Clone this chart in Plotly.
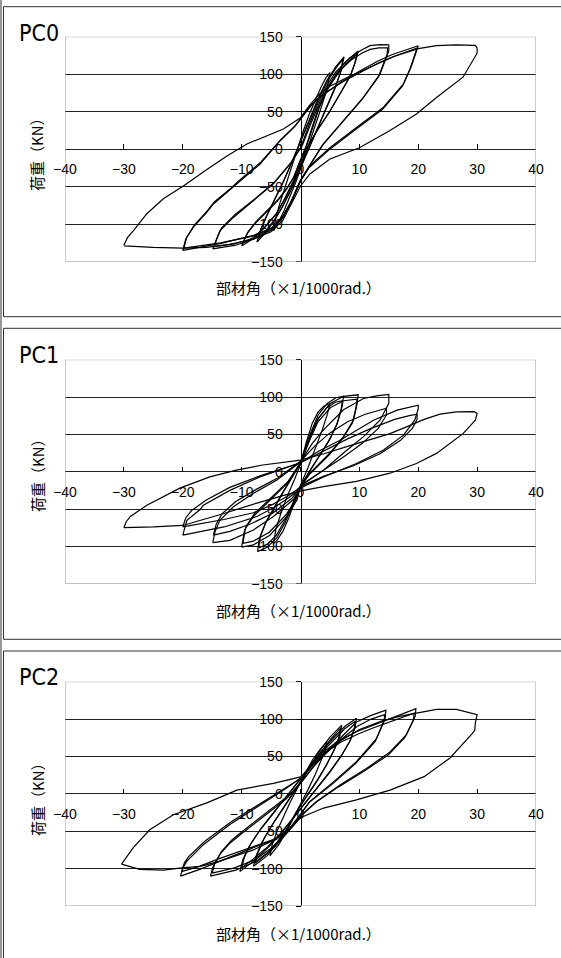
import plotly.graph_objects as go

# ---------------- data ----------------
X_TICKS = [-40, -30, -20, -10, 0, 10, 20, 30, 40]
Y_TICKS = [-150, -100, -50, 0, 50, 100, 150]
PANEL_TITLES = ["PC0", "PC1", "PC2"]
X_TITLE = "部材角（×1/1000rad.）"
Y_TITLE = "荷重（KN）"

# ---- PC0 cycles ----
pc0_05_x = [-4.6, -4.2, -3.5, -2.5, -1.5, -0.5, 0.5, 1.5, 2.5, 3.5, 4.3, 5.0, 4.7, 4.1, 3.2, 2.2, 1.2, 0.2, -0.8, -1.8, -2.8, -3.8, -4.6]
pc0_05_y = [-109, -92, -72, -48, -22, 3, 25, 47, 66, 83, 95, 102, 88, 70, 48, 24, 0, -22, -44, -64, -82, -98, -109]
pc0_075a_x = [-7.4, -6.8, -5.8, -4.5, -3.0, -1.5, 0.0, 1.5, 3.0, 4.5, 6.0, 7.4, 6.9, 6.0, 4.5, 3.0, 1.5, 0.0, -1.5, -3.0, -4.5, -6.0, -7.4]
pc0_075a_y = [-124, -108, -90, -70, -45, -18, 10, 40, 68, 92, 110, 123, 105, 85, 58, 30, 2, -25, -52, -76, -96, -112, -124]
pc0_075b_x = [-7.2, -6.6, -5.6, -4.3, -2.8, -1.3, 0.2, 1.7, 3.2, 4.7, 6.1, 7.2, 6.8, 5.9, 4.4, 2.9, 1.4, -0.1, -1.6, -3.1, -4.6, -6.0, -7.2]
pc0_075b_y = [-120, -104, -86, -66, -41, -14, 13, 42, 69, 92, 109, 120, 102, 82, 55, 27, -1, -28, -54, -77, -96, -110, -120]
pc0_10a_x = [-10.0, -9.1, -7.8, -6.0, -4.0, -2.5, -1.2, 0.0, 1.0, 2.0, 3.0, 4.5, 6.0, 7.5, 8.7, 9.8, 9.4, 8.6, 7.3, 5.0, 2.8, 1.2, 0.0, -1.0, -2.5, -4.0, -6.0, -8.0, -10.0]
pc0_10a_y = [-129, -113, -100, -86, -70, -55, -38, -14, 5, 30, 54, 80, 100, 115, 124, 131, 118, 100, 82, 51, 25, 3, -22, -40, -64, -85, -104, -119, -129]
pc0_10b_x = [-9.8, -8.9, -7.6, -5.8, -3.8, -2.3, -1.0, 0.2, 1.2, 2.2, 3.2, 4.7, 6.2, 7.6, 8.7, 9.6, 9.2, 8.4, 7.1, 4.8, 2.6, 1.0, -0.2, -1.2, -2.7, -4.2, -6.2, -8.0, -9.8]
pc0_10b_y = [-125, -110, -97, -83, -67, -52, -35, -11, 8, 32, 56, 81, 99, 113, 121, 127, 114, 97, 79, 48, 22, 0, -24, -42, -66, -87, -105, -118, -125]
pc0_15a_x = [-14.9, -14.3, -13.7, -11.4, -8.0, -4.6, -1.8, 0.0, 1.5, 3.0, 4.5, 6.0, 8.4, 10.3, 11.8, 13.5, 15.0, 15.0, 13.5, 10.7, 7.3, 3.9, 1.0, 0.0, -1.5, -3.0, -5.0, -8.0, -11.0, -14.9]
pc0_15a_y = [-133, -120, -109, -91, -69, -46, -20, 2, 33, 62, 85, 103, 122, 132, 138, 139.5, 139, 131, 100, 69, 38, 7, -29, -42, -70, -92, -108, -120, -128, -133]
pc0_15b_x = [-14.7, -14.1, -13.4, -11.1, -7.7, -4.3, -1.5, 0.3, 1.8, 3.3, 4.8, 6.3, 8.6, 10.4, 11.8, 13.3, 14.8, 14.7, 13.2, 10.4, 7.0, 3.6, 0.8, -0.2, -1.7, -3.3, -5.3, -8.2, -11.1, -14.7]
pc0_15b_y = [-130, -117, -105, -87, -66, -43, -17, 5, 35, 63, 85, 102, 119, 128, 133, 135, 135, 126, 96, 66, 35, 4, -31, -44, -72, -93, -108, -119, -126, -130]
pc0_20a_x = [-20.0, -19.5, -18.2, -16.0, -14.8, -12.0, -10.8, -6.9, -3.5, -1.0, 0.0, 1.5, 3.0, 4.4, 7.0, 10.0, 13.0, 15.5, 18.0, 20.0, 19.7, 18.8, 17.5, 14.1, 9.5, 5.0, 1.6, 0.0, -1.5, -3.0, -4.6, -8.0, -13.7, -17.0, -20.0]
pc0_20a_y = [-135, -120, -104, -85, -73, -55, -46, -20, 11, 30, 40, 56, 68, 76, 90, 104, 117, 126, 133, 138, 131, 110, 87, 56, 29, 2, -22, -42, -68, -90, -104, -115, -126, -131, -135]
pc0_20b_x = [-19.8, -19.3, -18.0, -15.8, -14.6, -11.8, -10.6, -6.7, -3.3, -0.8, 0.2, 1.7, 3.2, 4.6, 7.2, 10.2, 13.2, 15.6, 18.0, 19.8, 19.5, 18.6, 17.3, 13.9, 9.3, 4.8, 1.4, -0.1, -1.6, -3.1, -4.7, -8.1, -13.6, -16.8, -19.8]
pc0_20b_y = [-132, -117, -101, -82, -70, -52, -43, -17, 13, 32, 42, 57, 69, 77, 90, 103, 115, 123, 130, 135, 128, 107, 84, 53, 26, -1, -25, -44, -70, -91, -105, -116, -125, -129, -132]
pc0_30_x = [-30.0, -29.4, -28.4, -26.1, -23.3, -19.9, -15.9, -12.5, -9.1, -6.3, -2.9, 0.0, 1.5, 3.0, 5.0, 8.0, 12.0, 16.0, 20.0, 23.1, 26.5, 29.7, 30.0, 30.0, 27.6, 23.1, 19.7, 15.2, 10.0, 5.0, 1.6, 0.0, -1.5, -3.0, -5.0, -8.0, -12.0, -16.0, -20.0, -25.0, -30.0]
pc0_30_y = [-128, -118, -109, -86, -66, -49, -27, -9, 7, 16, 27, 42, 58, 72, 84, 96, 110, 124, 134, 138, 139, 138.5, 135, 128, 96, 69, 47, 25, 2, -13, -33, -49, -72, -95, -110, -120, -127, -131, -132, -131, -129]

# ---- PC1 cycles ----
pc1_05_x = [-4.6, -4.2, -3.3, -2.2, -1.0, 0.0, 1.0, 2.0, 3.0, 4.0, 5.0, 4.6, 3.7, 2.6, 1.3, 0.0, -1.0, -2.0, -3.0, -4.0, -4.6]
pc1_05_y = [-97, -78, -55, -32, -10, 10, 40, 65, 80, 88, 91, 78, 56, 32, 6, -18, -40, -62, -80, -92, -97]
pc1_075a_x = [-7.3, -7.0, -6.0, -4.5, -3.0, -1.5, 0.0, 1.5, 3.0, 4.5, 6.0, 7.3, 7.1, 6.3, 5.0, 3.3, 1.6, 0.0, -1.2, -2.6, -4.0, -5.6, -7.3]
pc1_075a_y = [-107, -90, -70, -48, -28, -8, 12, 48, 76, 91, 99, 101, 88, 66, 44, 22, 2, -20, -42, -68, -88, -101, -107]
pc1_075b_x = [-7.1, -6.8, -5.8, -4.3, -2.8, -1.3, 0.1, 1.6, 3.1, 4.5, 5.9, 7.1, 6.9, 6.1, 4.8, 3.1, 1.5, -0.1, -1.3, -2.7, -4.1, -5.6, -7.1]
pc1_075b_y = [-102, -86, -66, -45, -25, -6, 13, 46, 72, 86, 93, 95, 83, 62, 41, 20, 0, -21, -42, -66, -85, -97, -102]
pc1_10a_x = [-10.0, -9.5, -8.0, -5.7, -2.3, 0.0, 1.4, 2.8, 5.0, 7.3, 9.8, 9.6, 9.0, 7.3, 5.0, 1.6, 0.0, -0.6, -2.3, -5.2, -8.0, -10.0]
pc1_10a_y = [-101, -78, -60, -42, -16, 12, 42, 69, 91, 101, 103, 90, 69, 47, 25, -2, -20, -38, -60, -85, -98, -101]
pc1_10b_x = [-9.8, -9.3, -7.8, -5.5, -2.1, 0.1, 1.5, 2.9, 5.1, 7.3, 9.6, 9.4, 8.8, 7.1, 4.8, 1.5, -0.1, -0.8, -2.5, -5.3, -8.0, -9.8]
pc1_10b_y = [-96, -74, -56, -39, -13, 13, 41, 66, 86, 95, 97, 85, 65, 44, 22, -4, -21, -38, -58, -81, -93, -96]
pc1_15a_x = [-14.9, -14.5, -13.7, -11.4, -8.0, -4.0, 0.0, 2.0, 3.9, 7.3, 10.7, 12.9, 15.0, 15.0, 13.5, 10.7, 7.3, 3.9, 0.5, -1.3, -4.6, -8.0, -12.0, -14.9]
pc1_15a_y = [-95, -80, -65, -47, -29, -11, 13, 38, 56, 83, 98, 101.5, 103.5, 91.5, 69, 47, 25, 2, -16, -38, -60, -78, -92, -95]
pc1_15b_x = [-14.8, -14.3, -13.3, -11.0, -7.6, -3.8, 0.0, 2.5, 5.0, 8.0, 11.0, 13.0, 14.6, 14.6, 13.2, 10.5, 7.0, 3.5, 0.5, -1.5, -4.8, -8.5, -12.0, -14.8]
pc1_15b_y = [-85, -70, -56, -40, -24, -8, 14, 35, 52, 67, 77, 82, 85, 76, 58, 38, 18, 0, -16, -36, -56, -70, -80, -85]
pc1_20a_x = [-20.0, -19.6, -19.3, -17.1, -16.5, -12.0, -6.9, 0.0, 3.0, 6.7, 12.4, 16.4, 20.0, 20.0, 19.4, 17.5, 14.1, 9.5, 3.9, 0.5, -2.0, -4.5, -7.4, -13.0, -17.0, -20.0]
pc1_20a_y = [-85, -72, -65, -51, -45, -25, -7, 12, 27, 42, 69, 82.5, 89, 84, 69, 49, 29, 11, -7, -20, -35, -48, -60, -74, -80, -85]
pc1_20b_x = [-20.0, -19.5, -18.5, -16.0, -12.0, -7.0, 0.0, 4.0, 8.0, 12.0, 16.0, 18.5, 19.8, 19.8, 19.0, 17.0, 13.5, 9.0, 4.0, 0.5, -2.0, -5.0, -8.0, -13.0, -17.0, -20.0]
pc1_20b_y = [-74, -62, -52, -38, -21, -6, 12, 28, 44, 58, 70, 75, 77, 70, 58, 42, 24, 8, -6, -18, -32, -45, -55, -64, -70, -74]
pc1_30_x = [-30.0, -29.6, -28.9, -26.1, -20.5, -15.4, -10.9, -6.4, 0.0, 4.0, 8.0, 12.0, 15.2, 18.0, 21.0, 23.7, 26.5, 29.5, 30.0, 29.7, 27.6, 23.1, 19.7, 15.2, 9.5, 3.9, 0.5, -3.0, -7.4, -13.0, -20.0, -25.0, -30.0]
pc1_30_y = [-75, -67, -60, -45, -22, -7, 2, 9, 15.5, 24, 34, 44, 51, 60, 70, 77, 80, 80.4, 78, 69, 51, 24.5, 11, -2, -13, -20, -25, -32, -42, -56, -72, -74, -75]

# ---- PC2 cycles ----
pc2_05_x = [-5.2, -4.8, -4.0, -3.0, -1.8, -0.5, 0.8, 2.0, 3.2, 4.5, 4.2, 3.5, 2.5, 1.3, 0.0, -1.3, -2.5, -3.7, -5.2]
pc2_05_y = [-83, -68, -50, -32, -12, 8, 28, 45, 58, 70, 58, 44, 26, 6, -14, -34, -52, -68, -83]
pc2_075a_x = [-8.0, -7.5, -6.5, -5.0, -3.2, -1.3, 0.5, 2.0, 3.5, 5.0, 7.0, 6.7, 5.8, 4.5, 3.0, 1.3, -0.5, -2.0, -3.7, -5.7, -8.0]
pc2_075a_y = [-97, -82, -64, -44, -22, 0, 22, 42, 60, 76, 92, 78, 60, 40, 20, 0, -22, -44, -64, -83, -97]
pc2_075b_x = [-7.7, -7.2, -6.2, -4.7, -2.9, -1.0, 0.7, 2.2, 3.7, 5.2, 6.8, 6.5, 5.6, 4.3, 2.8, 1.1, -0.7, -2.2, -3.9, -5.8, -7.7]
pc2_075b_y = [-93, -78, -60, -40, -19, 3, 24, 43, 59, 74, 88, 75, 57, 37, 17, -3, -24, -45, -64, -81, -93]
pc2_10a_x = [-10.3, -9.8, -8.7, -7.0, -5.0, -2.8, -0.5, 1.5, 3.5, 5.5, 7.5, 9.5, 9.3, 8.5, 7.0, 5.0, 3.0, 1.0, -1.0, -3.2, -5.5, -8.0, -10.3]
pc2_10a_y = [-104, -88, -70, -50, -30, -8, 15, 36, 56, 74, 90, 101, 90, 72, 52, 30, 10, -10, -30, -52, -72, -90, -104]
pc2_10b_x = [-10.0, -9.5, -8.4, -6.7, -4.7, -2.5, -0.2, 1.8, 3.7, 5.6, 7.5, 9.3, 9.1, 8.3, 6.8, 4.8, 2.8, 0.8, -1.2, -3.4, -5.6, -8.0, -10.0]
pc2_10b_y = [-99, -84, -66, -46, -26, -5, 17, 37, 56, 72, 87, 97, 86, 69, 49, 27, 7, -12, -32, -53, -71, -87, -99]
pc2_15a_x = [-15.3, -14.9, -13.7, -12.0, -10.3, -8.0, -5.8, -2.3, 0.0, 2.0, 4.0, 6.5, 9.5, 12.0, 14.5, 14.4, 12.9, 9.5, 5.6, 1.6, 0.0, -2.0, -4.5, -7.5, -11.0, -15.3]
pc2_15a_y = [-110, -98, -81, -66, -55, -41, -28, -6, 14, 35, 53, 72, 96, 105, 112, 102, 74, 43, 16, -10, -28, -50, -72, -90, -102, -110]
pc2_15b_x = [-15.0, -14.6, -13.4, -11.7, -10.0, -7.7, -5.5, -2.0, 0.3, 2.3, 4.3, 6.8, 9.6, 12.0, 14.3, 14.2, 12.7, 9.3, 5.4, 1.4, -0.2, -2.2, -4.7, -7.7, -11.2, -15.0]
pc2_15b_y = [-106, -94, -77, -62, -51, -37, -24, -2, 17, 37, 54, 72, 90, 100, 106, 97, 70, 40, 13, -12, -29, -50, -71, -88, -99, -106]
pc2_20a_x = [-20.4, -19.9, -19.3, -16.5, -12.0, -6.9, -2.3, 0.0, 1.5, 3.9, 6.5, 9.5, 12.0, 14.6, 17.0, 19.6, 19.5, 18.0, 15.2, 11.2, 6.7, 2.8, 0.0, -1.5, -4.0, -8.0, -13.7, -17.1, -20.4]
pc2_20a_y = [-110, -98, -90, -68, -41, -15, 8, 21, 36, 56, 71, 83, 91, 99, 106, 114, 104, 79, 56, 34, 12, -10, -30, -45, -60, -72, -90, -101, -110]
pc2_20b_x = [-20.2, -19.7, -19.0, -16.2, -11.7, -6.6, -2.0, 0.3, 1.8, 4.2, 6.8, 9.8, 12.3, 14.8, 17.0, 19.3, 19.2, 17.7, 14.9, 10.9, 6.4, 2.5, -0.2, -1.8, -4.3, -8.3, -13.9, -17.2, -20.2]
pc2_20b_y = [-104, -92, -84, -63, -37, -12, 10, 22, 36, 55, 69, 80, 88, 95, 101, 108, 99, 75, 52, 31, 9, -12, -31, -46, -60, -71, -87, -97, -104]
pc2_30_x = [-30.4, -29.5, -28.4, -25.6, -21.6, -15.9, -10.8, -4.6, 0.2, 2.0, 4.0, 7.0, 10.0, 14.0, 17.0, 19.7, 23.1, 26.5, 30.0, 29.7, 29.6, 29.2, 25.4, 21.0, 15.2, 9.5, 3.9, 0.0, -1.5, -4.0, -8.0, -13.7, -17.0, -20.2, -23.3, -27.3, -30.4]
pc2_30_y = [-94, -84, -72, -48, -28, -12, 5, 14, 23, 38, 54, 72, 86, 98, 104, 108, 113, 113, 106, 95, 85, 81, 48, 23, 5, -8, -19, -32, -45, -60, -75, -90, -97, -99, -102, -101, -94]

PC0_CYCLES = [(pc0_05_x, pc0_05_y), (pc0_075a_x, pc0_075a_y), (pc0_075b_x, pc0_075b_y),
              (pc0_10a_x, pc0_10a_y), (pc0_10b_x, pc0_10b_y), (pc0_15a_x, pc0_15a_y),
              (pc0_15b_x, pc0_15b_y), (pc0_20a_x, pc0_20a_y), (pc0_20b_x, pc0_20b_y),
              (pc0_30_x, pc0_30_y)]
PC1_CYCLES = [(pc1_05_x, pc1_05_y), (pc1_075a_x, pc1_075a_y), (pc1_075b_x, pc1_075b_y),
              (pc1_10a_x, pc1_10a_y), (pc1_10b_x, pc1_10b_y), (pc1_15a_x, pc1_15a_y),
              (pc1_15b_x, pc1_15b_y), (pc1_20a_x, pc1_20a_y), (pc1_20b_x, pc1_20b_y),
              (pc1_30_x, pc1_30_y)]
PC2_CYCLES = [(pc2_05_x, pc2_05_y), (pc2_075a_x, pc2_075a_y), (pc2_075b_x, pc2_075b_y),
              (pc2_10a_x, pc2_10a_y), (pc2_10b_x, pc2_10b_y), (pc2_15a_x, pc2_15a_y),
              (pc2_15b_x, pc2_15b_y), (pc2_20a_x, pc2_20a_y), (pc2_20b_x, pc2_20b_y),
              (pc2_30_x, pc2_30_y)]

# ---------------- layout ----------------
W, H = 561, 958


def px(v):
    return v / W


def py(v):
    return 1 - v / H


XDOM = [px(65), px(536)]
PLOT_PX = [(36.7, 261.7), (359.7, 583.7), (681.7, 906.0)]
BOX_PX = [(6.7, 316.7), (328.3, 639.3), (651.0, 975.0)]
TITLE_Y = [33.5, 355.0, 677.0]
YTITLE_Y = [151.0, 472.0, 796.0]
XTITLE_Y = [287.5, 610.5, 933.5]

TICK_FONT = dict(family="Liberation Sans, Arial, sans-serif", size=14, color="black")
CJK_FONT = dict(family="Noto Sans CJK JP, sans-serif", size=15, color="black")
PANEL_FONT = dict(family="Liberation Sans Narrow, DejaVu Sans Condensed, sans-serif", size=23, color="black")

fig = go.Figure()
shapes = []
annotations = []
layout_axes = {}
all_cycles = [PC0_CYCLES, PC1_CYCLES, PC2_CYCLES]

for i, cycles in enumerate(all_cycles):
    sfx = "" if i == 0 else str(i + 1)
    top, bot = PLOT_PX[i]
    ydom = [py(bot), py(top)]
    for cx, cy in cycles:
        fig.add_trace(go.Scatter(x=cx, y=cy, mode="lines",
                                 line=dict(color="black", width=1.2),
                                 xaxis="x" + sfx, yaxis="y" + sfx,
                                 showlegend=False, hoverinfo="skip"))
    layout_axes["xaxis" + sfx] = dict(
        domain=XDOM, range=[-40, 40], anchor="free", position=(ydom[0] + ydom[1]) / 2,
        tickmode="array", tickvals=X_TICKS, ticks="inside", ticklen=5, tickcolor="black",
        showline=False, showgrid=False, zeroline=False, automargin=False,
        tickfont=TICK_FONT, ticklabelstandoff=10, fixedrange=True)
    layout_axes["yaxis" + sfx] = dict(
        domain=ydom, range=[-150, 150], anchor="free", position=(XDOM[0] + XDOM[1]) / 2,
        tickmode="array", tickvals=Y_TICKS, ticks="outside", ticklen=5, tickcolor="black",
        showline=True, linecolor="black", linewidth=1, showgrid=True, gridcolor="#202020",
        gridwidth=1, zeroline=False, automargin=False, tickfont=TICK_FONT,
        ticklabelstandoff=10, fixedrange=True)
    shapes.append(dict(type="rect", xref="x" + sfx, yref="y" + sfx, x0=-40, x1=40, y0=-150, y1=150,
                       line=dict(color="#9a9a9a", width=1), layer="above"))
    b0, b1 = BOX_PX[i]
    shapes.append(dict(type="rect", xref="paper", yref="paper", x0=px(3.5), x1=px(575),
                       y0=py(b1), y1=py(b0), line=dict(color="#303030", width=1)))
    annotations.append(dict(text=PANEL_TITLES[i], xref="paper", yref="paper", x=px(17), y=py(TITLE_Y[i]),
                            xanchor="left", yanchor="middle", showarrow=False, font=PANEL_FONT))
    annotations.append(dict(text=Y_TITLE, xref="paper", yref="paper", x=px(37), y=py(YTITLE_Y[i]),
                            xanchor="center", yanchor="middle", textangle=-90, showarrow=False, font=CJK_FONT))
    annotations.append(dict(text=X_TITLE, xref="paper", yref="paper", x=px(298), y=py(XTITLE_Y[i]),
                            xanchor="center", yanchor="middle", showarrow=False, font=CJK_FONT))

shapes.append(dict(type="line", xref="paper", yref="paper", x0=px(1), x1=px(1), y0=0, y1=1,
                   line=dict(color="#303030", width=1)))

fig.update_layout(width=W, height=H, margin=dict(l=0, r=0, t=0, b=0, pad=0, autoexpand=False),
                  paper_bgcolor="white", plot_bgcolor="white",
                  shapes=shapes, annotations=annotations, showlegend=False, **layout_axes)

fig.write_html("out.html", config={"displayModeBar": False},
               post_script="document.body.style.margin='0';document.body.style.overflow='hidden';")
